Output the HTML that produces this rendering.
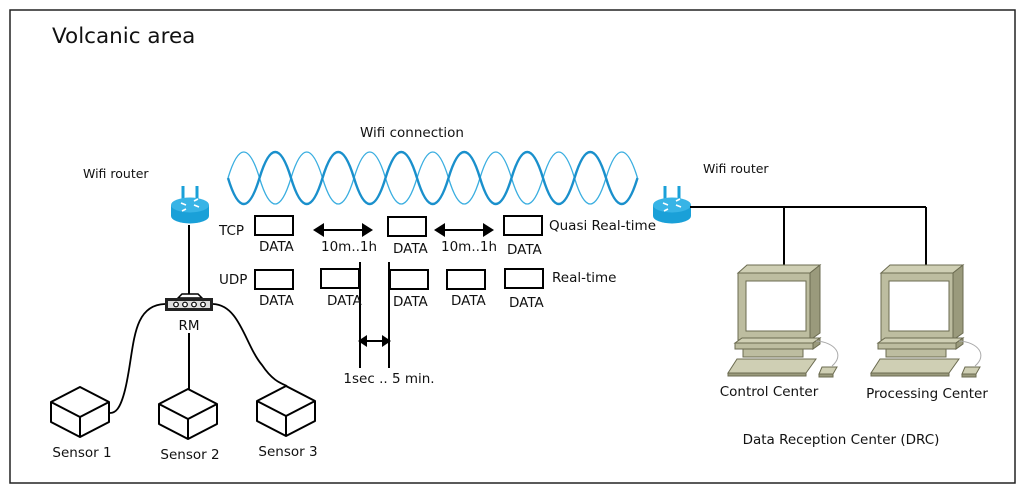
<!DOCTYPE html>
<html><head><meta charset="utf-8"><style>
html,body{margin:0;padding:0;background:#fff;}
svg{display:block;}
text{font-family:"DejaVu Sans","Liberation Sans",sans-serif;fill:#111;}
</style></head><body>
<svg width="1024" height="493" viewBox="0 0 1024 493" xmlns="http://www.w3.org/2000/svg">
<defs>
<g id="router">
  <line x1="-7" y1="-21" x2="-7" y2="-8" stroke="#1aa0d8" stroke-width="3"/>
  <line x1="7" y1="-21" x2="7" y2="-8" stroke="#1aa0d8" stroke-width="3"/>
  <path d="M-19,-2 v11 a19,7.5 0 0 0 38,0 v-11 z" fill="#1aa0d8"/>
  <ellipse cx="0" cy="-2" rx="19" ry="7.5" fill="#38b4e6"/>
  <path d="M-9,-4 l5,2 M9,0 l-5,-2 M-4,2 l-4,2 M4,-6 l4,-2" stroke="#fff" stroke-width="1.6"/>
</g>
<g id="cube" fill="#fff" stroke="#000" stroke-width="2" stroke-linejoin="round">
  <path d="M0,0 L29,15 L29,35 L0,50 L-29,35 L-29,15 Z"/>
  <path d="M-29,15 L0,30 L29,15 M0,30 L0,50" fill="none"/>
</g>
<g id="pc" stroke="#6b6b50" stroke-width="1">
  <path d="M738,273 L747,265 L820,265 L810,273 Z" fill="#cfcfb4"/>
  <path d="M810,273 L820,265 L820,333 L810,340 Z" fill="#9a9a7c"/>
  <rect x="738" y="273" width="72" height="67" fill="#bdbda0"/>
  <rect x="746" y="281" width="60" height="50" fill="#fff"/>
  <path d="M735,343 L742,338 L820,338 L813,343 Z" fill="#cfcfb4"/>
  <rect x="735" y="343" width="78" height="6" fill="#bdbda0"/>
  <path d="M813,343 L820,338 L820,344 L813,349 Z" fill="#9a9a7c"/>
  <rect x="743" y="349" width="60" height="8" fill="#bdbda0"/>
  <path d="M737,359 L816,359 L806,373 L728,373 Z" fill="#cfcfb4"/>
  <rect x="728" y="373" width="78" height="3" fill="#9a9a7c"/>
  <path d="M816,341 C835,342 845,355 832,366" fill="none" stroke="#aaa"/>
  <path d="M822,367 L837,367 L833,374 L819,374 Z" fill="#cfcfb4"/>
  <rect x="819" y="374" width="14" height="3" fill="#9a9a7c"/>
</g>
</defs>
<rect x="10" y="10" width="1005" height="473" fill="#fff" stroke="#222" stroke-width="1.5"/>
<text x="52" y="43" font-size="21.5">Volcanic area</text>
<text x="412" y="137" font-size="13.5" text-anchor="middle">Wifi connection</text>
<text x="83" y="178" font-size="12.5">Wifi router</text>
<text x="703" y="173" font-size="12.5">Wifi router</text>

<path d="M228,178 q15.75,-52 31.5,0 q15.75,52 31.5,0 q15.75,-52 31.5,0 q15.75,52 31.5,0 q15.75,-52 31.5,0 q15.75,52 31.5,0 q15.75,-52 31.5,0 q15.75,52 31.5,0 q15.75,-52 31.5,0 q15.75,52 31.5,0 q15.75,-52 31.5,0 q15.75,52 31.5,0 q15.75,-52 31.5,0" fill="none" stroke="#3aaee0" stroke-width="1.3"/>
<path d="M228,178 q15.75,52 31.5,0 q15.75,-52 31.5,0 q15.75,52 31.5,0 q15.75,-52 31.5,0 q15.75,52 31.5,0 q15.75,-52 31.5,0 q15.75,52 31.5,0 q15.75,-52 31.5,0 q15.75,52 31.5,0 q15.75,-52 31.5,0 q15.75,52 31.5,0 q15.75,-52 31.5,0 q15.75,52 31.5,0" fill="none" stroke="#1a90cc" stroke-width="2.4"/>

<use href="#router" x="190" y="207"/>
<use href="#router" x="672" y="207"/>

<g fill="none" stroke="#000" stroke-width="2">
<rect x="255" y="216" width="38" height="19"/>
<rect x="388" y="217" width="38" height="19"/>
<rect x="504" y="216" width="38" height="19"/>
<rect x="255" y="270" width="38" height="19"/>
<rect x="321" y="269" width="38" height="19"/>
<rect x="390" y="270" width="38" height="19"/>
<rect x="447" y="270" width="38" height="19"/>
<rect x="505" y="269" width="38" height="19"/>
<line x1="320" y1="230" x2="366" y2="230"/>
<line x1="441" y1="230" x2="487" y2="230"/>
<line x1="360" y1="262" x2="360" y2="368"/>
<line x1="389" y1="262" x2="389" y2="368"/>
<line x1="364" y1="341" x2="385" y2="341"/>
<line x1="189" y1="225" x2="189" y2="297"/>
<line x1="189" y1="333" x2="189" y2="389"/>
<line x1="690" y1="207" x2="926" y2="207"/>
<line x1="784" y1="207" x2="784" y2="266"/>
<line x1="926" y1="207" x2="926" y2="266"/>
<path d="M165,304 C130,305 135,350 125,390 C120,410 115,413 110,413" stroke-width="1.8"/>
<path d="M213,304 C240,305 245,345 262,365 C272,380 280,383 287,386" stroke-width="1.8"/>
</g>
<g fill="#000">
<path d="M313,230 l11,-7 v14 z"/><path d="M373,230 l-11,-7 v14 z"/>
<path d="M434,230 l11,-7 v14 z"/><path d="M494,230 l-11,-7 v14 z"/>
<path d="M358,341 l9,-6 v12 z"/><path d="M391,341 l-9,-6 v12 z"/>
</g>

<path d="M178,298 L182,294 L198,294 L202,298 Z" fill="#fff" stroke="#000" stroke-width="1.5"/>
<rect x="165" y="298" width="48" height="13" fill="#222"/>
<rect x="168" y="301" width="42" height="7" fill="#ddd"/>
<g fill="#fff" stroke="#000" stroke-width="1.2">
<circle cx="176" cy="304.5" r="2.3"/><circle cx="185" cy="304.5" r="2.3"/><circle cx="194" cy="304.5" r="2.3"/><circle cx="203" cy="304.5" r="2.3"/>
</g>

<use href="#cube" x="80" y="387"/>
<use href="#cube" x="188" y="389"/>
<use href="#cube" x="286" y="386"/>

<use href="#pc"/>
<use href="#pc" x="143"/>

<g font-size="13.5">
<text x="219" y="235">TCP</text>
<text x="219" y="284">UDP</text>
<text x="259" y="251">DATA</text>
<text x="393" y="253">DATA</text>
<text x="507" y="254">DATA</text>
<text x="321" y="251">10m..1h</text>
<text x="441" y="251">10m..1h</text>
<text x="259" y="305">DATA</text>
<text x="327" y="305">DATA</text>
<text x="393" y="306">DATA</text>
<text x="451" y="305">DATA</text>
<text x="509" y="307">DATA</text>
<text x="549" y="230">Quasi Real-time</text>
<text x="552" y="282">Real-time</text>
<text x="189" y="330" text-anchor="middle">RM</text>
<text x="389" y="383" text-anchor="middle">1sec .. 5 min.</text>
<text x="82" y="457" text-anchor="middle">Sensor 1</text>
<text x="190" y="459" text-anchor="middle">Sensor 2</text>
<text x="288" y="456" text-anchor="middle">Sensor 3</text>
<text x="769" y="396" text-anchor="middle">Control Center</text>
<text x="927" y="398" text-anchor="middle">Processing Center</text>
<text x="841" y="444" text-anchor="middle">Data Reception Center (DRC)</text>
</g>
</svg>
</body></html>
